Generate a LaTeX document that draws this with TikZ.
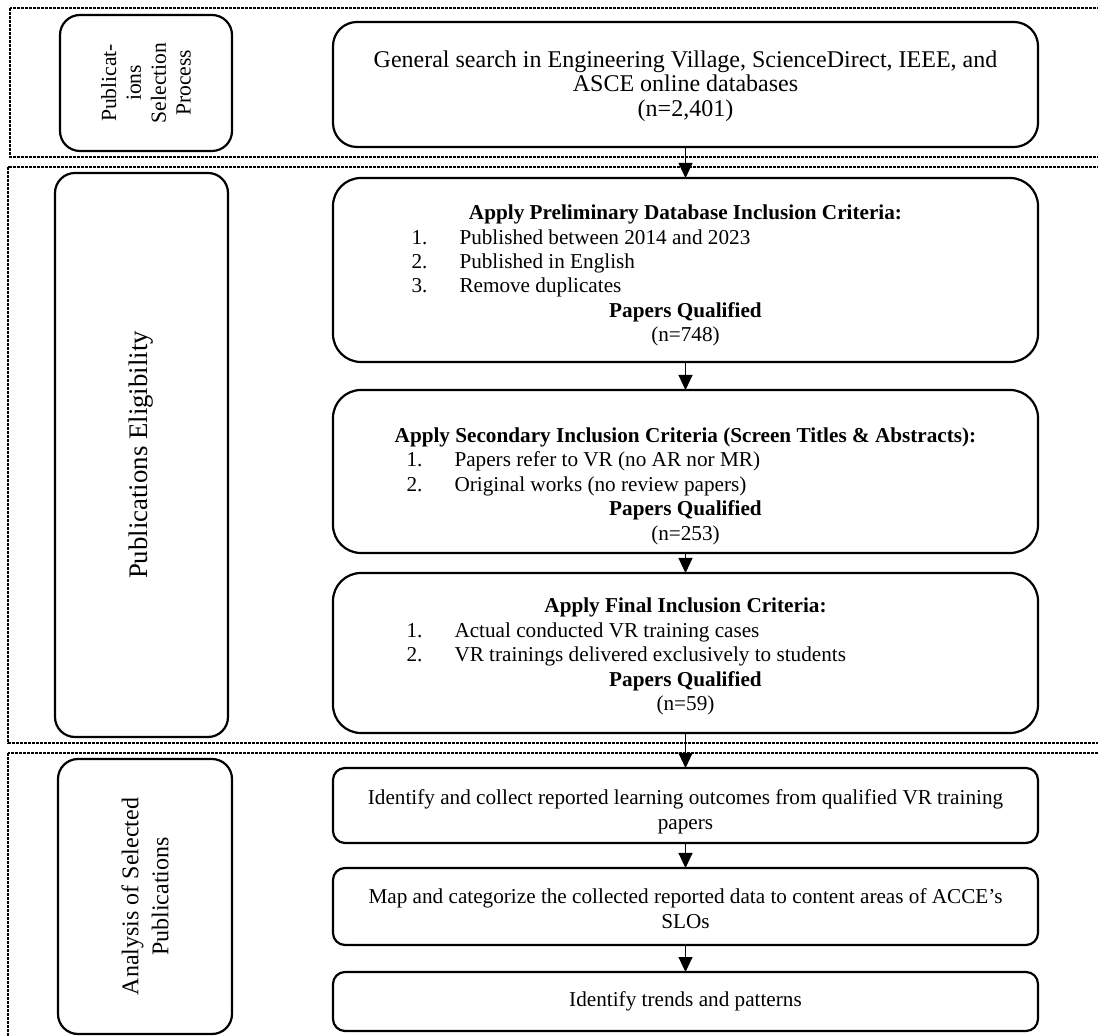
\documentclass[tikz,border=0pt]{standalone}
\usepackage{fontspec}
\setmainfont{Liberation Serif}
\usetikzlibrary{arrows.meta,positioning}
\newcommand\critline[3]{\makebox[#1][l]{\makebox[24pt][l]{#2}#3}}
\newcommand\padtop[1]{\rule{0pt}{#1}}
\tikzset{
  lane/.style  ={draw=black,line width=1pt,dash pattern=on 1.3pt off 0.7pt},
  phase/.style ={draw=black,line width=1.1pt,rounded corners=10pt,align=center,
                 inner sep=0pt,rotate=90},
  stepbox/.style={draw=black,line width=1.1pt,rounded corners=12pt,align=center,
                 inner sep=0pt,minimum width=352.5pt},
  smallbox/.style={stepbox,rounded corners=6pt,
                 font=\fontsize{10.6}{12.5}\selectfont},
  flow/.style  ={-{Triangle[width=7pt,length=7.5pt]},draw=black,line width=0.5pt},
}

\begin{document}
\begin{tikzpicture}[x=0.5pt,y=0.5pt,every node/.style={outer sep=0pt}]
\useasboundingbox (0,0) rectangle (1098,-1036);
\clip (0,0) rectangle (1098,-1036);

% phase frames
\draw[lane] (10,-8) rectangle (1120,-157);
\draw[lane] (8,-167) rectangle (1120,-743);
\draw[lane] (8,-753) rectangle (1120,-1060);

% phase labels
\node[phase,minimum width=68pt,minimum height=86pt,
      font=\fontsize{10.8}{12.4}\selectfont] (selLbl) at (146,-83)
      {Publicat-\\ions\\Selection\\Process};
\node[phase,minimum width=282pt,minimum height=86.5pt,
      font=\fontsize{13.4}{15}\selectfont] (eligLbl) at (141.5,-455)
      {Publications Eligibility};
\node[phase,minimum width=137.5pt,minimum height=87pt,
      font=\fontsize{12}{15}\selectfont] (anaLbl) at (145,-896.5)
      {Analysis of Selected\\Publications};

% search
\node[stepbox,minimum height=62.5pt,font=\fontsize{12}{12.3}\selectfont]
      (srch) at (685.5,-84.5)
      {\padtop{10pt}General search in Engineering Village, ScienceDirect, IEEE, and\\
       ASCE online databases\\(n=2,401)};

% eligibility
\begin{scope}[font=\fontsize{10.6}{12.2}\selectfont]
\node[stepbox,minimum height=92pt,rounded corners=14pt] (prelim) at (685.5,-270)
      {\padtop{13pt}\textbf{Apply Preliminary Database Inclusion Criteria:}\\
       \critline{274pt}{1.}{Published between 2014 and 2023}\\
       \critline{274pt}{2.}{Published in English}\\
       \critline{274pt}{3.}{Remove duplicates}\\
       \textbf{Papers Qualified}\\(n=748)};
\node[stepbox,minimum height=81.5pt,rounded corners=14pt] (second) at (685.5,-471.5)
      {\padtop{22pt}\textbf{Apply Secondary Inclusion Criteria (Screen Titles \& Abstracts):}\\
       \critline{279pt}{1.}{Papers refer to VR (no AR nor MR)}\\
       \critline{279pt}{2.}{Original works (no review papers)}\\
       \textbf{Papers Qualified}\\(n=253)};
\node[stepbox,minimum height=80pt,rounded corners=14pt] (final) at (685.5,-653)
      {\padtop{11pt}\textbf{Apply Final Inclusion Criteria:}\\
       \critline{279pt}{1.}{Actual conducted VR training cases}\\
       \critline{279pt}{2.}{VR trainings delivered exclusively to students}\\
       \textbf{Papers Qualified}\\(n=59)};
\end{scope}

% analysis
\node[smallbox,minimum height=37.5pt] (outc) at (685.5,-805.5)
      {\padtop{14pt}Identify and collect reported learning outcomes from qualified VR training\\papers};
\node[smallbox,minimum height=38.5pt] (slo) at (685.5,-906.5)
      {\padtop{10pt}Map and categorize the collected reported data to content areas of ACCE's\\SLOs};
\node[smallbox,minimum height=29.5pt] (trend) at (685.5,-1001.5)
      {Identify trends and patterns};

\draw[flow] (srch) -- (prelim);
\draw[flow] (prelim) -- (second);
\draw[flow] (second) -- (final);
\draw[flow] (final) -- (outc);
\draw[flow] (outc) -- (slo);
\draw[flow] (slo) -- (trend);
\end{tikzpicture}
\end{document}
